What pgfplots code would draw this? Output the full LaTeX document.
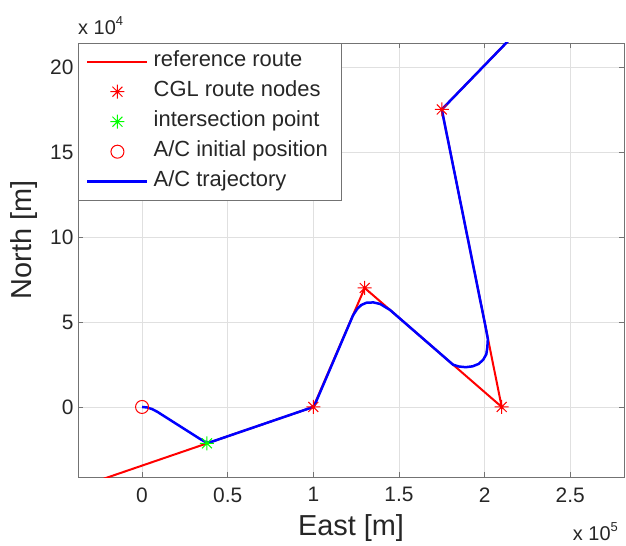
\documentclass[border=0pt]{standalone}
\usepackage{pgfplots}
\pgfplotsset{compat=1.18}
\usepackage{fontspec}
\setmainfont{Liberation Sans}

\pgfdeclareplotmark{mstar}{%
  \pgfpathmoveto{\pgfqpoint{-\pgfplotmarksize}{0pt}}\pgfpathlineto{\pgfqpoint{\pgfplotmarksize}{0pt}}%
  \pgfpathmoveto{\pgfqpoint{0pt}{-\pgfplotmarksize}}\pgfpathlineto{\pgfqpoint{0pt}{\pgfplotmarksize}}%
  \pgfpathmoveto{\pgfqpoint{-.707\pgfplotmarksize}{-.707\pgfplotmarksize}}\pgfpathlineto{\pgfqpoint{.707\pgfplotmarksize}{.707\pgfplotmarksize}}%
  \pgfpathmoveto{\pgfqpoint{-.707\pgfplotmarksize}{.707\pgfplotmarksize}}\pgfpathlineto{\pgfqpoint{.707\pgfplotmarksize}{-.707\pgfplotmarksize}}%
  \pgfusepathqstroke}

\begin{document}
\begin{tikzpicture}
\begin{axis}[
  scale only axis, width=546bp, height=434bp,
  xmin=-37400, xmax=281400, ymin=-41200, ymax=214100,
  axis line style={black!55, line width=0.8bp},
  xtick={0,50000,100000,150000,200000,250000},
  xticklabels={0,0.5,1,1.5,2,2.5},
  ytick={0,50000,100000,150000,200000},
  yticklabels={0,5,10,15,20},
  scaled ticks=false,
  tick align=inside, major tick length=5bp,
  tick style={black!55, line width=0.8bp},
  grid=major, grid style={black!12, line width=0.8bp},
  ticklabel style={font=\fontsize{21}{24}\selectfont, text=black!85},
  xticklabel style={yshift=-7bp},
  yticklabel style={xshift=-1bp},
  xlabel={East [m]}, ylabel={North [m]},
  label style={font=\fontsize{29}{33}\selectfont, text=black!85},
  xlabel style={at={(rel axis cs:0.5,0)}, anchor=base, yshift=-58bp},
  ylabel style={at={(rel axis cs:0,0.546)}, anchor=center, xshift=0bp, yshift=54bp},
  legend style={at={(0,1)}, anchor=north west, draw=black!55, fill=white,
    font=\fontsize{22}{26}\selectfont, text=black!85, inner xsep=8bp, inner ysep=8bp, row sep=9bp,
    nodes={inner xsep=5bp, inner ysep=0bp, text height=15bp, text depth=6bp}},
  legend image code/.code={\draw[mark repeat=2,mark phase=2,#1] plot coordinates {(0bp,0bp)(30bp,0bp)(60bp,0bp)};},
  legend cell align=left,
]
% reference route
\addplot[red, line width=2bp, mark=none] coordinates {
  (-60000,-55200) (100000,0) (130000,70000) (210000,0) (175000,175000) (250000,253000)
};
\addlegendentry{reference route}
% A/C trajectory (drawn under markers)
\addplot[blue, line width=2.5bp, mark=none, forget plot, line join=round] coordinates {
  (0,0) (3000,-300) (6000,-1300) (9000,-2900) (34000,-18900) (36500,-20300) (39000,-21000)
  (42000,-20000) (97000,-1035) (99500,-150) (101000,1500) (102500,5200)
  (123200,53900) (125500,57500) (128000,60000) (131000,61300) (135000,61500) (139000,60600) (144800,57050)
  (181600,24850) (185000,23800) (189000,23400) (193000,23900) (196500,25300) (199200,27800)
  (201000,31000) (201600,35000) (201900,40000) (200400,48000)
  (175000,175000) (250000,253000)
};
% CGL route nodes
\addplot[red, only marks, mark=mstar, mark size=7bp, line width=1bp] coordinates {
  (100000,0) (130000,70000) (210000,0) (175000,175000)
};
\addlegendentry{CGL route nodes}
% intersection point
\addplot[green, only marks, mark=mstar, mark size=7bp, line width=1bp] coordinates {
  (37900,-21400)
};
\addlegendentry{intersection point}
% initial position
\addplot[red, only marks, mark=o, mark size=6.5bp, line width=1bp] coordinates {
  (0,0)
};
\addlegendentry{A/C initial position}
\addlegendimage{blue, line width=2.5bp, mark=none}
\addlegendentry{A/C trajectory}
\end{axis}
\node[anchor=base west, font=\fontsize{20}{24}\selectfont, text=black!85, inner sep=0pt]
  at ([yshift=8bp]current axis.north west) {x 10\raisebox{9bp}{\fontsize{13}{15}\selectfont 4}};
\node[anchor=base east, font=\fontsize{20}{24}\selectfont, text=black!85, inner sep=0pt]
  at ([xshift=-6bp,yshift=-63bp]current axis.south east) {x 10\raisebox{9bp}{\fontsize{13}{15}\selectfont 5}};
\pgfresetboundingbox
\path ([shift={(-78bp,-69bp)}]current axis.south west) rectangle ([shift={(2bp,43bp)}]current axis.north east);
\end{tikzpicture}
\end{document}
